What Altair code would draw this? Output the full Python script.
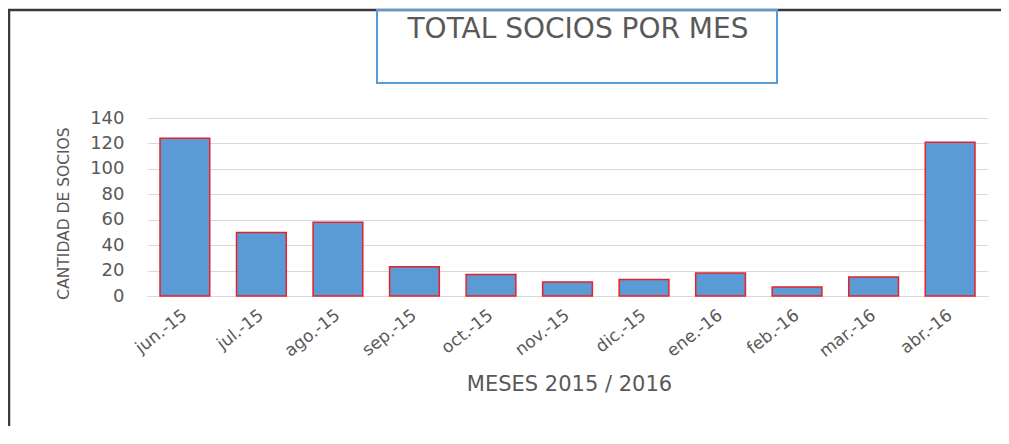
import altair as alt
import pandas as pd

months = ["jun.-15", "jul.-15", "ago.-15", "sep.-15", "oct.-15", "nov.-15",
          "dic.-15", "ene.-16", "feb.-16", "mar.-16", "abr.-16"]
socios = [124, 50, 58, 23, 17, 11, 13, 18, 7, 15, 121]
title_text = "TOTAL SOCIOS POR MES"
y_title = "CANTIDAD DE SOCIOS"
x_title = "MESES 2015 / 2016"
y_ticks = [0, 20, 40, 60, 80, 100, 120, 140]

FONT = "DejaVu Sans"
GRAY = "#595959"

df = pd.DataFrame({"mes": months, "socios": socios})

bars = alt.Chart(df).mark_bar(
    color="#5b9bd5", stroke="#e8202a", strokeWidth=1.5
).encode(
    x=alt.X("mes:N", sort=months,
            scale=alt.Scale(paddingInner=0.35, paddingOuter=0.17),
            axis=alt.Axis(title=x_title, labelAngle=-38, labelAlign="right",
                          labelBaseline="middle", labelPadding=17,
                          labelFontSize=17, labelColor=GRAY, labelFont=FONT,
                          ticks=False, domain=True, domainColor="#d9d9d9",
                          titleFont=FONT, titleFontSize=21, titleColor=GRAY,
                          titleFontWeight="normal", titleX=422, titleY=88,
                          titleAlign="center", titleBaseline="middle")),
    y=alt.Y("socios:Q",
            scale=alt.Scale(domain=[0, 140], nice=False),
            axis=alt.Axis(values=y_ticks, grid=True, gridColor="#d9d9d9",
                          domain=False, ticks=False, labelFontSize=18,
                          labelColor=GRAY, labelFont=FONT, labelPadding=23,
                          title=y_title, titleFont=FONT, titleFontSize=15.5,
                          titleColor=GRAY, titleFontWeight="normal",
                          titleX=-84, titleY=95, titleAngle=-90,
                          titleAlign="center", titleBaseline="middle")),
)

one = pd.DataFrame({"t": [title_text]})

top_line = alt.Chart(one).mark_rule(
    stroke="#3a3a3a", strokeWidth=2.5
).encode(x=alt.value(-139), x2=alt.value(880), y=alt.value(-108))

left_line = alt.Chart(one).mark_rule(
    stroke="#3a3a3a", strokeWidth=2.5
).encode(x=alt.value(-138), y=alt.value(-109), y2=alt.value(330))

tbox = alt.Chart(one).mark_rect(
    fillOpacity=0, stroke="#5b9bd5", strokeWidth=2
).encode(x=alt.value(230), x2=alt.value(630), y=alt.value(-108), y2=alt.value(-35))

ttext = alt.Chart(one).mark_text(
    font=FONT, fontSize=28, color=GRAY, align="center", baseline="alphabetic"
).encode(text="t:N", x=alt.value(431), y=alt.value(-80))

chart = alt.layer(bars, top_line, left_line, tbox, ttext).properties(
    width=841, height=178,
    padding={"left": 139, "top": 110, "right": 13, "bottom": 130},
    autosize=alt.AutoSizeParams(type="none"),
).configure_view(stroke=None)

chart.save("out.html", embed_options={"renderer": "svg", "actions": False})
